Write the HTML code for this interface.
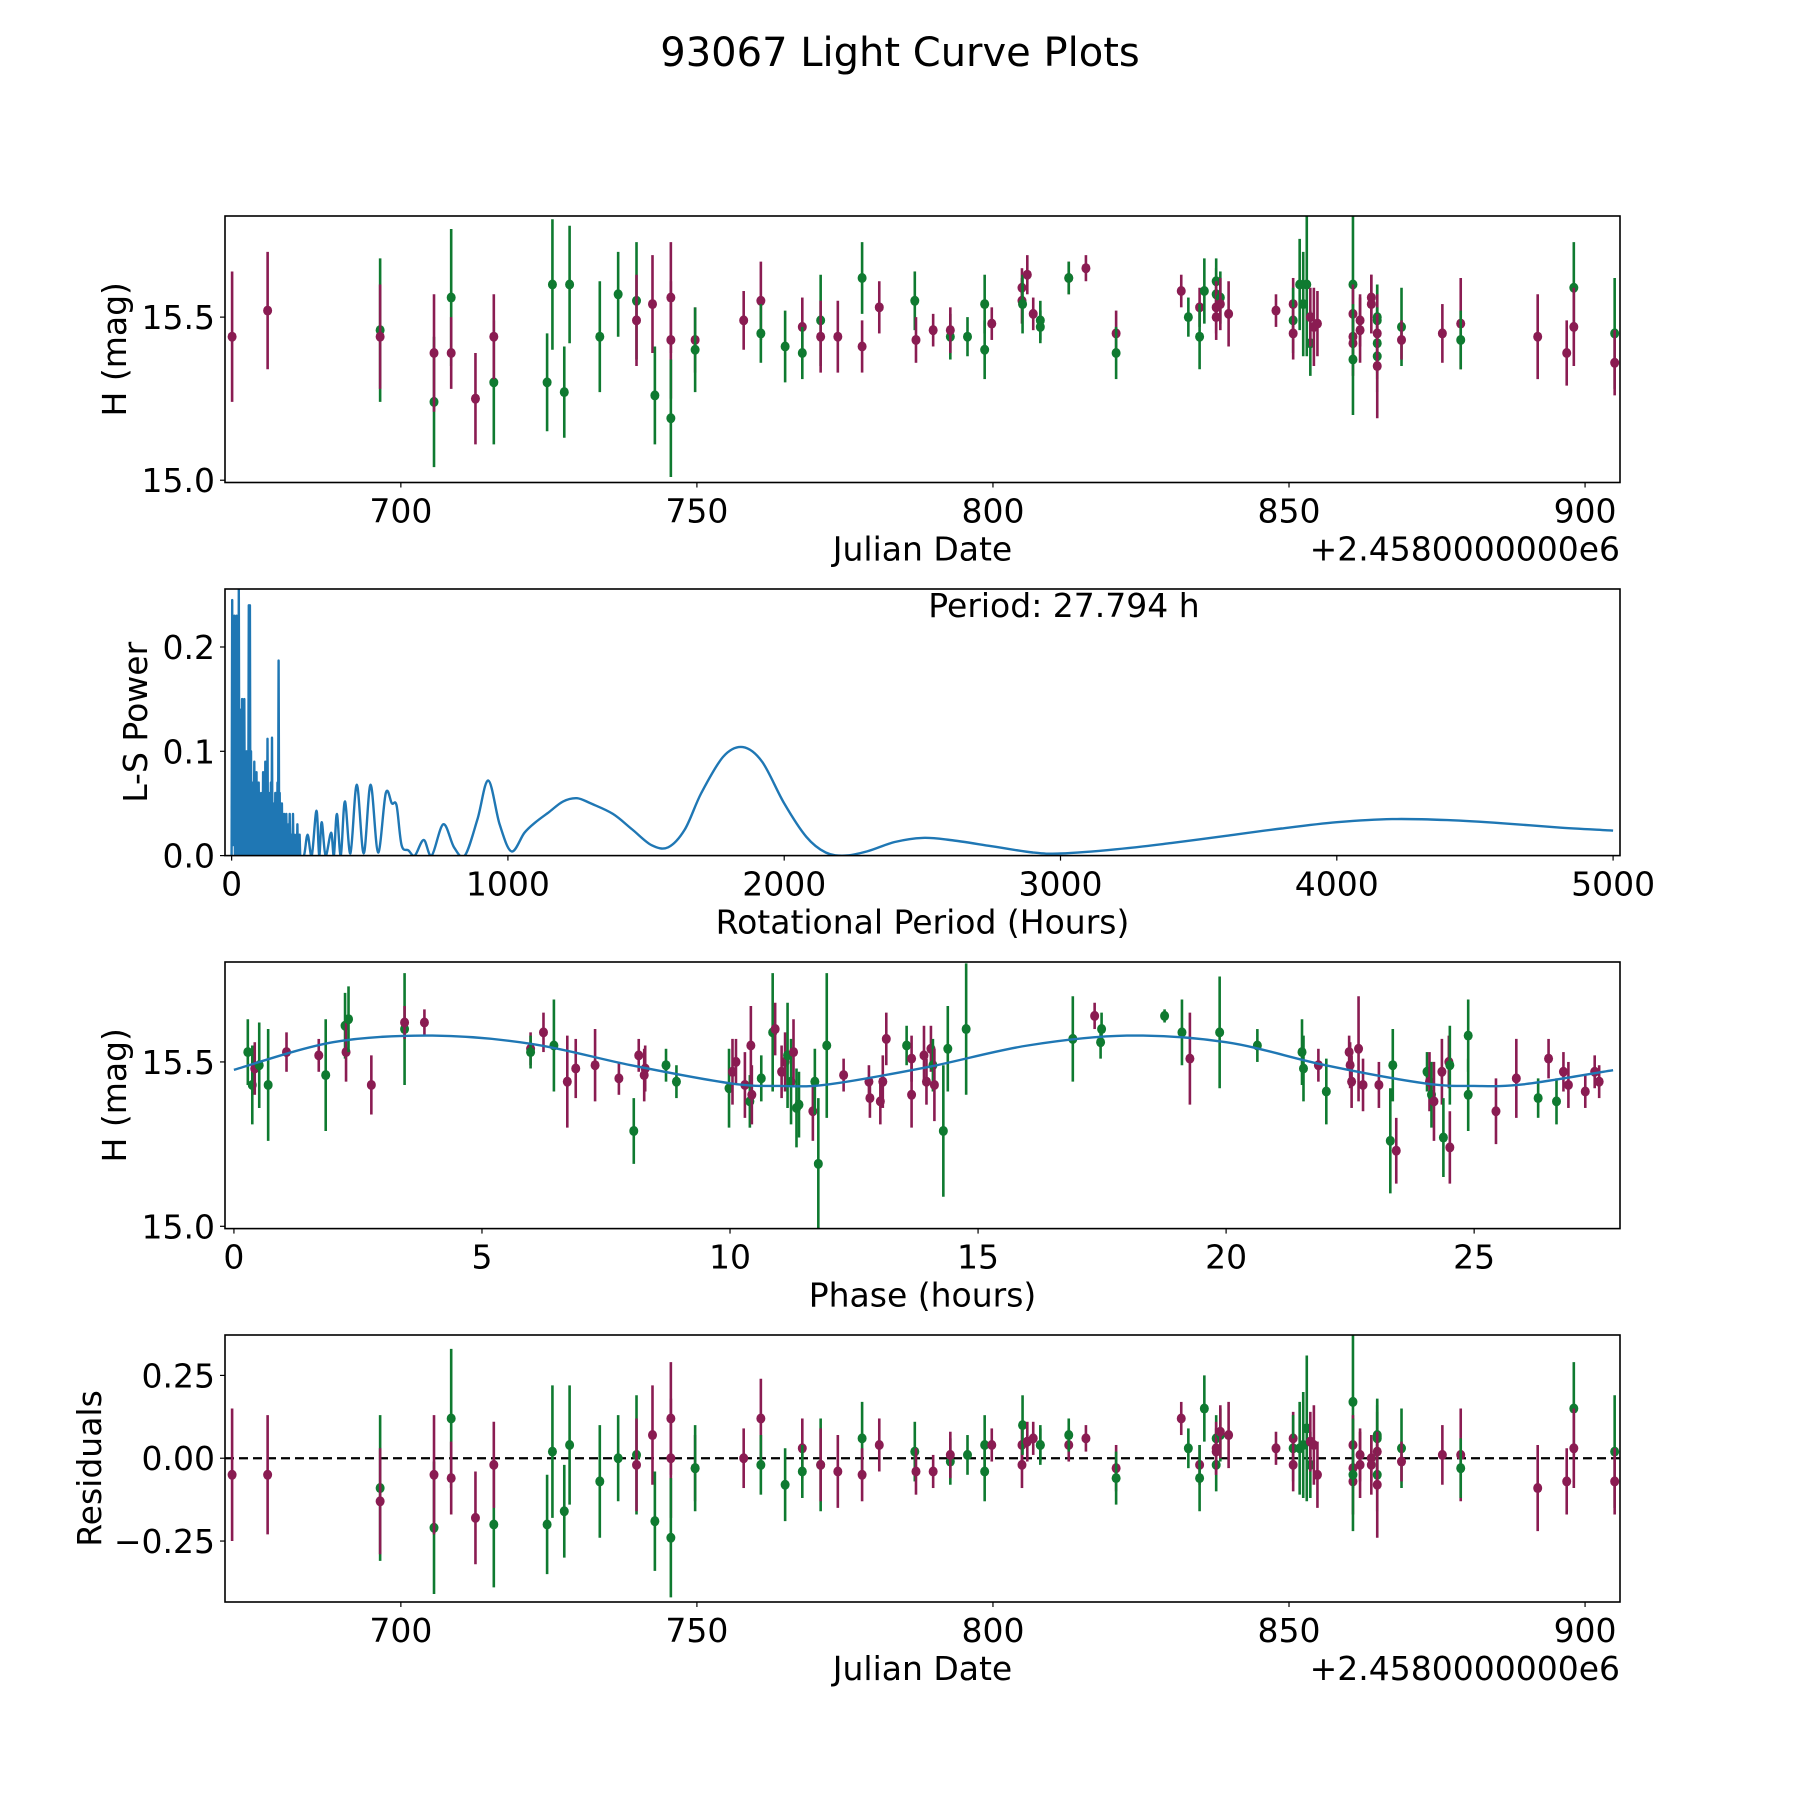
<!DOCTYPE html>
<html><head><meta charset="utf-8"><style>
html,body{margin:0;padding:0;background:#fff;}
svg{display:block;font-family:"DejaVu Sans","Liberation Sans",sans-serif;}
</style></head><body>
<svg id="fig" width="1800" height="1800" viewBox="0 0 1800 1800" xmlns="http://www.w3.org/2000/svg">
<rect width="1800" height="1800" fill="#fff"/>
<text x="900" y="66" text-anchor="middle" font-size="40">93067 Light Curve Plots</text>
</svg>
<script>
// ---- Panel 1 & 4 data (Julian date offset, magnitude, error, band 0=magenta 1=green, residual)
const jd = [671.5,677.5,696.5,696.5,705.6,705.6,708.5,708.5,712.6,715.7,715.7,724.7,725.6,727.6,728.5,733.6,736.7,739.8,739.8,742.5,742.9,745.6,745.6,745.6,749.7,749.7,757.9,760.8,760.8,764.9,767.8,767.8,770.9,770.9,773.8,777.9,777.9,780.8,786.8,787.0,789.9,792.8,792.8,795.7,798.6,798.6,799.8,804.9,804.9,805.0,805.8,806.8,808.0,808.0,812.8,812.8,815.7,820.8,820.8,831.8,833.0,834.9,834.9,835.7,837.7,837.7,837.7,837.7,838.4,838.4,839.8,847.8,850.7,850.7,850.7,851.8,853.0,852.4,853.6,853.6,854.2,854.8,860.8,860.8,860.8,860.8,860.8,862.0,862.0,863.9,863.9,864.9,864.9,864.9,864.9,864.9,864.9,869.0,869.0,875.9,879.0,879.0,892.0,896.9,898.1,898.1,905.0,905.0];
const mag = [15.44,15.52,15.46,15.44,15.24,15.39,15.56,15.39,15.25,15.30,15.44,15.30,15.60,15.27,15.60,15.44,15.57,15.55,15.49,15.54,15.26,15.56,15.43,15.19,15.43,15.40,15.49,15.55,15.45,15.41,15.47,15.39,15.49,15.44,15.44,15.62,15.41,15.53,15.55,15.43,15.46,15.44,15.46,15.44,15.54,15.40,15.48,15.55,15.59,15.54,15.63,15.51,15.49,15.47,15.62,15.62,15.65,15.45,15.39,15.58,15.50,15.53,15.44,15.58,15.61,15.57,15.53,15.50,15.56,15.54,15.51,15.52,15.54,15.49,15.45,15.60,15.60,15.54,15.42,15.50,15.47,15.48,15.60,15.51,15.44,15.42,15.37,15.49,15.46,15.56,15.54,15.49,15.50,15.45,15.42,15.38,15.35,15.47,15.43,15.45,15.48,15.43,15.44,15.39,15.59,15.47,15.45,15.36];
const magErr = [.20,.18,.22,.16,.20,.18,.21,.11,.14,.19,.13,.15,.20,.14,.18,.17,.13,.18,.14,.15,.15,.17,.18,.18,.10,.13,.09,.12,.09,.11,.09,.08,.14,.11,.11,.11,.08,.08,.09,.07,.05,.07,.07,.06,.09,.09,.05,.07,.06,.09,.06,.05,.06,.05,.05,.05,.04,.07,.08,.05,.06,.06,.10,.10,.07,.08,.08,.07,.08,.08,.10,.05,.08,.10,.08,.14,.22,.16,.10,.09,.12,.10,.22,.09,.06,.10,.17,.08,.10,.07,.09,.11,.10,.12,.11,.11,.16,.12,.06,.09,.14,.09,.13,.10,.14,.12,.17,.10];
const band = [0,0,1,0,1,0,1,0,0,1,0,1,1,1,1,1,1,1,0,0,1,0,0,1,0,1,0,0,1,1,0,1,1,0,0,1,0,0,1,0,0,1,0,1,1,1,0,0,0,1,0,0,1,1,0,1,0,0,1,0,1,0,1,1,1,1,0,0,1,0,0,0,0,1,0,1,1,1,1,0,0,0,1,0,0,0,1,0,0,0,0,1,1,0,1,1,0,1,0,0,0,1,0,0,1,0,1,0];
const resid = [-0.05,-0.05,-0.09,-0.13,-0.21,-0.05,0.12,-0.06,-0.18,-0.20,-0.02,-0.20,0.02,-0.16,0.04,-0.07,0.0,0.01,-0.02,0.07,-0.19,0.12,0.0,-0.24,-0.03,-0.03,0.0,0.12,-0.02,-0.08,0.03,-0.04,-0.02,-0.02,-0.04,0.06,-0.05,0.04,0.02,-0.04,-0.04,-0.01,0.01,0.01,-0.04,0.04,0.04,-0.02,0.04,0.10,0.05,0.06,0.04,0.04,0.04,0.07,0.06,-0.03,-0.06,0.12,0.03,-0.02,-0.06,0.15,0.06,-0.02,0.03,0.02,0.07,0.08,0.07,0.03,0.06,0.03,-0.02,0.03,0.09,0.04,-0.02,0.05,0.04,-0.05,0.17,0.04,-0.03,-0.07,-0.05,0.01,-0.02,0.0,-0.02,0.07,0.06,0.02,-0.05,0.065,-0.08,0.03,-0.01,0.01,0.01,-0.03,-0.09,-0.07,0.15,0.03,0.02,-0.07];

// ---- Panel 3 data (phase folded)
const phase = [0.28,0.37,0.42,0.51,0.69,1.06,1.71,1.85,2.24,2.26,2.31,2.77,3.44,3.44,3.84,5.98,5.98,6.24,6.45,6.72,6.89,7.28,7.76,8.06,8.16,8.27,8.29,8.71,8.92,9.98,10.05,10.12,10.30,10.40,10.42,10.44,10.63,10.86,10.91,11.04,11.11,11.16,11.23,11.28,11.34,11.39,11.67,11.71,11.78,11.95,12.29,12.80,12.82,13.03,13.08,13.15,13.56,13.66,13.66,13.91,13.96,14.05,14.09,14.12,14.30,14.39,14.76,16.91,17.35,17.47,17.49,18.76,19.11,19.27,19.87,20.63,21.53,21.56,21.86,22.02,22.48,22.50,22.53,22.67,22.76,23.08,23.31,23.36,23.43,24.05,24.10,24.14,24.19,24.35,24.38,24.49,24.51,24.51,24.88,24.88,25.44,25.85,26.29,26.50,26.66,26.80,26.90,27.24,27.43,27.52];
const phMag = [15.53,15.43,15.48,15.49,15.43,15.53,15.52,15.46,15.61,15.53,15.63,15.43,15.60,15.62,15.62,15.54,15.53,15.59,15.55,15.44,15.48,15.49,15.45,15.29,15.52,15.46,15.48,15.49,15.44,15.42,15.47,15.50,15.43,15.38,15.55,15.40,15.45,15.59,15.60,15.47,15.50,15.52,15.44,15.53,15.36,15.37,15.35,15.44,15.19,15.55,15.46,15.44,15.39,15.38,15.44,15.57,15.55,15.51,15.40,15.52,15.44,15.54,15.49,15.43,15.29,15.54,15.60,15.57,15.64,15.56,15.60,15.64,15.59,15.51,15.59,15.55,15.53,15.48,15.49,15.41,15.53,15.49,15.44,15.54,15.43,15.43,15.26,15.49,15.23,15.47,15.44,15.40,15.38,15.47,15.27,15.50,15.49,15.24,15.40,15.58,15.35,15.45,15.39,15.51,15.38,15.47,15.43,15.41,15.47,15.44];
const phErr = [.10,.12,.08,.13,.17,.06,.05,.17,.10,.09,.10,.09,.17,.05,.04,.05,.05,.06,.14,.14,.09,.11,.05,.10,.05,.08,.07,.05,.05,.12,.10,.07,.10,.08,.12,.09,.07,.18,.08,.08,.09,.16,.13,.10,.12,.10,.09,.10,.20,.22,.05,.05,.06,.07,.08,.08,.06,.07,.10,.09,.07,.07,.08,.11,.20,.13,.20,.13,.04,.05,.05,.02,.10,.14,.17,.05,.10,.10,.05,.10,.05,.07,.08,.16,.08,.07,.16,.11,.10,.06,.09,.10,.12,.10,.12,.08,.12,.11,.11,.11,.10,.12,.06,.06,.07,.06,.07,.05,.05,.05];
const phBand = [1,1,0,1,1,0,0,1,1,0,1,0,1,0,0,0,1,0,1,0,0,0,0,1,0,0,0,1,1,1,0,0,0,1,0,0,1,1,0,0,0,1,1,0,1,1,0,1,1,1,0,0,0,0,0,0,1,0,0,0,0,0,1,0,1,1,1,1,0,1,1,1,1,0,1,1,1,1,0,1,0,0,0,0,0,0,1,1,0,1,0,1,0,0,1,0,1,0,1,1,0,0,1,0,1,0,0,0,0,0];
const modelPhase = [0,2,4,6,8,10,11,12,14,16,18,20,22,24,25,26,27.8];
const modelMag = [15.476,15.56,15.58,15.555,15.49,15.435,15.427,15.432,15.485,15.55,15.58,15.56,15.49,15.435,15.427,15.432,15.475];

// ---- Panel 2 data (Lomb-Scargle periodogram)
const noisePeriod = [0,2,4,6,8,10,12,14,16,18,20,22,24,26,28,30,32,34,36,38,40,42,44,46,48,50,52,54,56,58,60,62,64,66,68,70,72,74,76,78,80,82,84,86,88,90,92,94,96,98,100,102,104,106,108,110,112,114,116,118,120,122,124,126,128,130,132,134,136,138,140,142,144,146,148,150,152,154,156,158,160,162,164,166,168,170,172,174,176,178,180,182,184,186,188,190,192,194,196,198,200,202,204,206,208,210,212,214,216,218,220,222,224,226,228,230,232,234,236,238,240,242,244,246,248];
const noisePower = [0,0.245,0.01,0.19,0.02,0.23,0.0,0.20,0.03,0.23,0.0,0.17,0.02,0.256,0.0,0.14,0.01,0.12,0.0,0.15,0.02,0.13,0.0,0.15,0.01,0.09,0.0,0.10,0.0,0.07,0.01,0.24,0.0,0.24,0.01,0.10,0.0,0.06,0.0,0.07,0.01,0.09,0.0,0.05,0.0,0.08,0.0,0.05,0.01,0.07,0.0,0.06,0.0,0.05,0.0,0.06,0.01,0.08,0.0,0.06,0.0,0.09,0.0,0.05,0.0,0.112,0.0,0.06,0.01,0.05,0.0,0.07,0.0,0.113,0.0,0.04,0.0,0.05,0.0,0.06,0.0,0.03,0.0,0.07,0.0,0.187,0.0,0.06,0.0,0.04,0.0,0.05,0.0,0.02,0.0,0.04,0.0,0.03,0.0,0.04,0.0,0.02,0.0,0.03,0.0,0.04,0.0,0.02,0.0,0.02,0.0,0.04,0.0,0.02,0.0,0.01,0.0,0.02,0.0,0.03,0.0,0.01,0.0,0.02,0.0];
const smoothPeriod = [248,262,275,290,307,317,326,340,360,370,381,395,410,430,453,478,503,530,558,580,597,615,640,663,695,724,766,805,844,890,929,970,1013,1060,1100,1150,1200,1250,1300,1380,1450,1520,1580,1640,1700,1780,1850,1920,2000,2080,2150,2220,2300,2400,2500,2600,2750,2900,3000,3200,3400,3600,3800,4000,4200,4400,4600,4800,5000];
const smoothPower = [0.0,0.0,0.02,0.0,0.043,0.0,0.032,0.0,0.022,0.0,0.04,0.0,0.052,0.002,0.068,0.002,0.068,0.003,0.06,0.05,0.048,0.01,0.005,0.0,0.015,0.0,0.03,0.008,0.0,0.035,0.072,0.03,0.004,0.022,0.032,0.042,0.052,0.055,0.05,0.04,0.025,0.01,0.008,0.025,0.06,0.095,0.104,0.09,0.05,0.018,0.003,0.0,0.004,0.013,0.017,0.015,0.009,0.003,0.002,0.006,0.012,0.019,0.026,0.032,0.035,0.034,0.031,0.027,0.024];

const xTicksJD = [700,750,800,850,900];
const yTicksMag = [15.0,15.5];
const xTicksLS = [0,1000,2000,3000,4000,5000];
const yTicksLS = [0.0,0.1,0.2];
const xTicksPh = [0,5,10,15,20,25];
const yTicksRes = [-0.25,0.0,0.25];
const periodText = "Period: 27.794 h";

const NS = "http://www.w3.org/2000/svg";
const svg = document.getElementById('fig');
const COL = ['#8a1c52','#0f7a30'];
const L = 225, R = 1620;
const FS = 33;
function el(tag, attrs, parent){ const e = document.createElementNS(NS, tag); for (const k in attrs) e.setAttribute(k, attrs[k]); (parent||svg).appendChild(e); return e; }
function mkScale(d0,d1,r0,r1){ return v => r0 + (v-d0)/(d1-d0)*(r1-r0); }

function makePanel(name, top, bottom, xlim, ylim){
  const g = el('g', {});
  
  
  const cid = name + '-clip';
  const cp = el('clipPath', {id: cid}, g);
  el('rect', {x: L, y: top, width: R-L, height: bottom-top}, cp);
  const plot = el('g', {'clip-path': 'url(#' + cid + ')'}, g);
  
  
  return {g, plot, top, bottom, x: mkScale(xlim[0], xlim[1], L, R), y: mkScale(ylim[0], ylim[1], bottom, top)};
}
function fmt(v, d){ const s = v.toFixed(d); return v < 0 ? '\u2212' + s.slice(1) : s; }
function axes(p, xt, xd, yt, yd){
  const ax = el('g', {}, p.g);
  
  
  xt.forEach(v => {
    const X = p.x(v);
    el('line', {x1: X, x2: X, y1: p.bottom, y2: p.bottom + 5, stroke: '#000', 'stroke-width': 1.2}, ax);
    const t = el('text', {x: X, y: p.bottom + 40, 'text-anchor': 'middle', 'font-size': FS}, ax);
    t.textContent = fmt(v, xd);
    
    
  });
  yt.forEach(v => {
    const Y = p.y(v);
    el('line', {x1: L - 5, x2: L, y1: Y, y2: Y, stroke: '#000', 'stroke-width': 1.2}, ax);
    const t = el('text', {x: L - 10, y: Y + 12, 'text-anchor': 'end', 'font-size': FS}, ax);
    t.textContent = fmt(v, yd);
    
    
  });
  const fr = el('rect', {x: L, y: p.top, width: R-L, height: p.bottom-p.top, fill: 'none', stroke: '#000', 'stroke-width': 1.6}, p.g);
  
  
}
function label(p, xl, yl, ylx, offset){
  const t = el('text', {x: (L+R)/2, y: p.bottom + 78, 'text-anchor': 'middle', 'font-size': FS}, p.g);
  t.textContent = xl;
  
  
  const cy = (p.top + p.bottom)/2;
  const u = el('text', {x: ylx, y: cy, 'text-anchor': 'middle', 'font-size': FS, transform: 'rotate(-90 ' + ylx + ' ' + cy + ')', dy: 11}, p.g);
  u.textContent = yl;
  
  
  if (offset){
    const o = el('text', {x: R, y: p.bottom + 78, 'text-anchor': 'end', 'font-size': FS}, p.g);
    o.textContent = '+2.4580000000e6';
    
    
  }
}
function errPoints(p, xs, ys, es, bs, name){
  for (let i = 0; i < xs.length; i++){
    const X = p.x(xs[i]);
    const c = COL[bs[i]];
    const ln = el('line', {x1: X, x2: X, y1: p.y(ys[i] - es[i]), y2: p.y(ys[i] + es[i]), stroke: c, 'stroke-width': 2.6}, p.plot);
    
    
    const d = el('ellipse', {cx: X, cy: p.y(ys[i]), rx: 4.5, ry: 5, fill: c}, p.plot);
    
    
  }
}
function catmull(pts){
  let d = 'M' + pts[0][0].toFixed(1) + ',' + pts[0][1].toFixed(1);
  for (let i = 0; i < pts.length - 1; i++){
    const p0 = pts[Math.max(0,i-1)], p1 = pts[i], p2 = pts[i+1], p3 = pts[Math.min(pts.length-1,i+2)];
    const c1x = p1[0] + (p2[0]-p0[0])/6, c1y = p1[1] + (p2[1]-p0[1])/6;
    const c2x = p2[0] - (p3[0]-p1[0])/6, c2y = p2[1] - (p3[1]-p1[1])/6;
    d += ' C' + c1x.toFixed(1) + ',' + c1y.toFixed(1) + ' ' + c2x.toFixed(1) + ',' + c2y.toFixed(1) + ' ' + p2[0].toFixed(1) + ',' + p2[1].toFixed(1);
  }
  return d;
}

// Panel 1
const JDLIM = [670.3, 905.9];
const p1 = makePanel('magnitude-panel', 216, 482.5, JDLIM, [14.993, 15.81]);
errPoints(p1, jd, mag, magErr, band, 'magnitude');
axes(p1, xTicksJD, 0, yTicksMag, 1);
label(p1, 'Julian Date', 'H (mag)', 115, true);

// Panel 2
const p2 = makePanel('periodogram-panel', 589, 855.6, [-24, 5025], [0, 0.2556]);
let dn = '';
for (let i = 0; i < noisePeriod.length; i++){ dn += (i ? 'L' : 'M') + p2.x(noisePeriod[i]).toFixed(1) + ',' + p2.y(noisePower[i]).toFixed(1); }
const sp = smoothPeriod.map((v,i) => [p2.x(v), p2.y(smoothPower[i])]);
dn += ' L' + catmull(sp).slice(1);
const ls = el('path', {d: dn, fill: 'none', stroke: '#1f77b4', 'stroke-width': 2.4, 'stroke-linejoin': 'round'}, p2.plot);


axes(p2, xTicksLS, 0, yTicksLS, 1);
label(p2, 'Rotational Period (Hours)', 'L-S Power', 136, false);
const pt = el('text', {x: 1064, y: 617, 'text-anchor': 'middle', 'font-size': FS}, p2.g);
pt.textContent = periodText;



// Panel 3
const p3 = makePanel('phase-panel', 962, 1228.6, [-0.18, 27.94], [14.993, 15.804]);
errPoints(p3, phase, phMag, phErr, phBand, 'phase');
const mp = modelPhase.map((v,i) => [p3.x(v), p3.y(modelMag[i])]);
const mc = el('path', {d: catmull(mp), fill: 'none', stroke: '#1f77b4', 'stroke-width': 2.4}, p3.plot);


axes(p3, xTicksPh, 0, yTicksMag, 1);
label(p3, 'Phase (hours)', 'H (mag)', 115, false);

// Panel 4
const p4 = makePanel('residuals-panel', 1335, 1602, JDLIM, [-0.434, 0.372]);
const zl = el('line', {x1: L, x2: R, y1: p4.y(0), y2: p4.y(0), stroke: '#000', 'stroke-width': 2.2, 'stroke-dasharray': '9,5'}, p4.plot);


errPoints(p4, jd, resid, magErr, band, 'residual');
axes(p4, xTicksJD, 0, yTicksRes, 2);
label(p4, 'Julian Date', 'Residuals', 90, true);
</script>
</body></html>
